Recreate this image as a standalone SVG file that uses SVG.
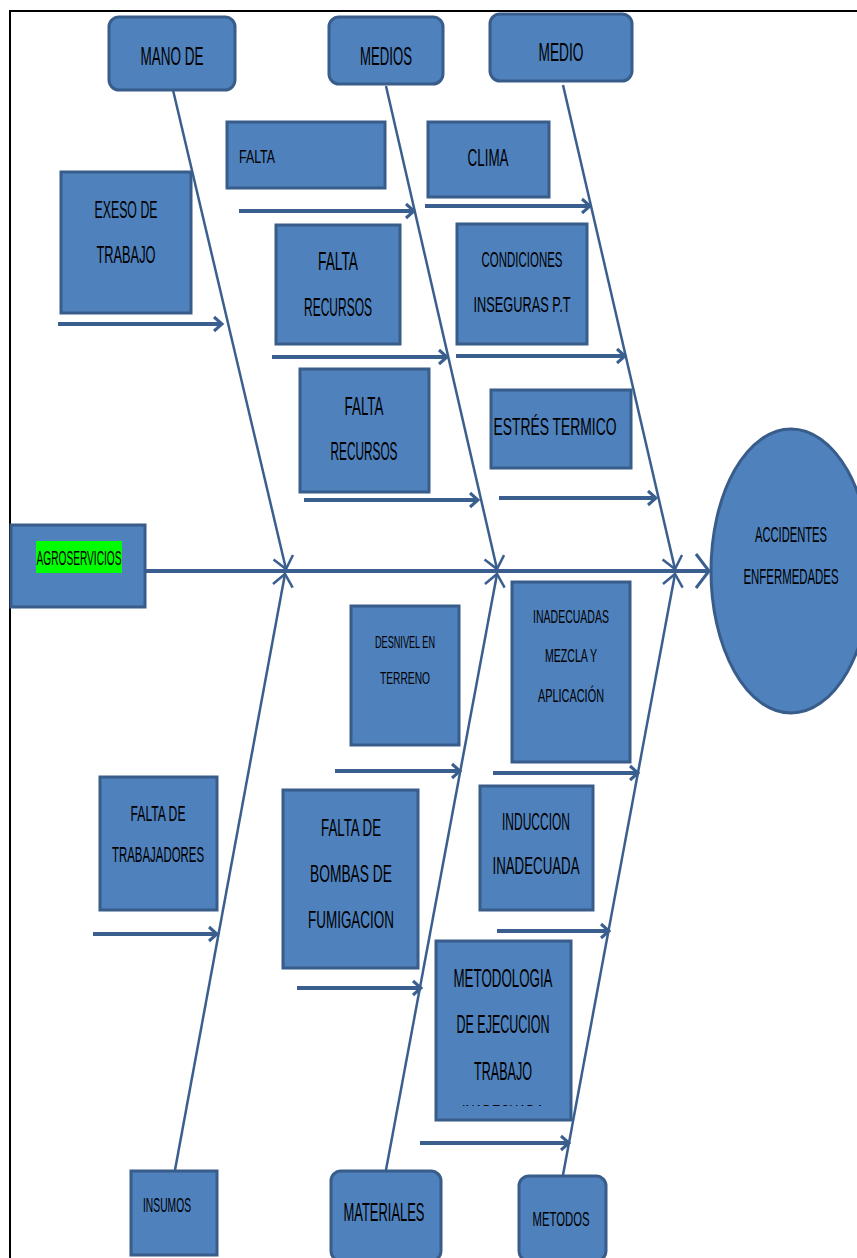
<svg xmlns="http://www.w3.org/2000/svg" width="857" height="1258" viewBox="0 0 857 1258">
<defs>
<style>
.box{fill:#4F81BD;stroke:#385D8A;stroke-width:3}
.t{font-family:"Liberation Sans Narrow","Liberation Sans",Arial,sans-serif;fill:#000;text-anchor:middle}
.bone{stroke:#3A5F8F;stroke-width:2.5;fill:none}
.sa{stroke:#3A5F8F;stroke-width:4;fill:none}
</style>
<marker id="ah" markerUnits="userSpaceOnUse" markerWidth="16" markerHeight="20" refX="12" refY="10" orient="auto">
<path d="M4,3 L12,10 L4,17" fill="none" stroke="#3A5F8F" stroke-width="3"/>
</marker>
<marker id="bh" markerUnits="userSpaceOnUse" markerWidth="24" markerHeight="30" refX="18" refY="15" orient="auto">
<path d="M6,5 L18,15 L6,25" fill="none" stroke="#3A5F8F" stroke-width="2.5"/>
</marker>
<marker id="big" markerUnits="userSpaceOnUse" markerWidth="20" markerHeight="40" refX="15" refY="20" orient="auto">
<path d="M2,3 L15,20 L2,37" fill="none" stroke="#3A5F8F" stroke-width="3"/>
</marker>
<clipPath id="cp"><rect x="436" y="1090" width="135" height="16"/></clipPath>
</defs>
<rect width="857" height="1258" fill="#fff"/>
<path d="M10,1258 L10,11 L857,11" fill="none" stroke="#000" stroke-width="2"/>

<g id="connectors">
<line class="sa" x1="146" y1="571" x2="709" y2="571" marker-end="url(#big)"/>
<line class="bone" x1="173" y1="90" x2="286" y2="569" marker-end="url(#bh)"/>
<line class="bone" x1="175" y1="1170" x2="285" y2="574" marker-end="url(#bh)"/>
<line class="bone" x1="386" y1="86" x2="497" y2="569" marker-end="url(#bh)"/>
<line class="bone" x1="386" y1="1170" x2="497" y2="574" marker-end="url(#bh)"/>
<line class="bone" x1="563" y1="85" x2="675" y2="569" marker-end="url(#bh)"/>
<line class="bone" x1="563" y1="1175" x2="675" y2="574" marker-end="url(#bh)"/>
<line class="sa" x1="58" y1="324" x2="222" y2="324" marker-end="url(#ah)"/>
<line class="sa" x1="239" y1="211" x2="414" y2="211" marker-end="url(#ah)"/>
<line class="sa" x1="425" y1="206" x2="590" y2="206" marker-end="url(#ah)"/>
<line class="sa" x1="272" y1="357" x2="447" y2="357" marker-end="url(#ah)"/>
<line class="sa" x1="456" y1="356" x2="625" y2="356" marker-end="url(#ah)"/>
<line class="sa" x1="304" y1="500" x2="478" y2="500" marker-end="url(#ah)"/>
<line class="sa" x1="499" y1="498" x2="656" y2="498" marker-end="url(#ah)"/>
<line class="sa" x1="335" y1="771" x2="460" y2="771" marker-end="url(#ah)"/>
<line class="sa" x1="493" y1="773" x2="638" y2="773" marker-end="url(#ah)"/>
<line class="sa" x1="93" y1="934" x2="217" y2="934" marker-end="url(#ah)"/>
<line class="sa" x1="297" y1="988" x2="421" y2="988" marker-end="url(#ah)"/>
<line class="sa" x1="497" y1="931" x2="609" y2="931" marker-end="url(#ah)"/>
<line class="sa" x1="420" y1="1143" x2="569" y2="1143" marker-end="url(#ah)"/>
</g>

<g id="mano">
<rect class="box" x="109" y="17" width="126" height="73" rx="10"/>
<text class="t" x="172" y="65" font-size="26" textLength="63" lengthAdjust="spacingAndGlyphs">MANO DE</text>
</g>
<g id="medios">
<rect class="box" x="329" y="17" width="114" height="67" rx="10"/>
<text class="t" x="386" y="65" font-size="26" textLength="52" lengthAdjust="spacingAndGlyphs">MEDIOS</text>
</g>
<g id="medio">
<rect class="box" x="490" y="14" width="142" height="67" rx="10"/>
<text class="t" x="561" y="61" font-size="25" textLength="45" lengthAdjust="spacingAndGlyphs">MEDIO</text>
</g>
<g id="falta1">
<rect class="box" x="227" y="122" width="158" height="66"/>
<text class="t" x="257" y="163" font-size="18" textLength="36" lengthAdjust="spacingAndGlyphs">FALTA</text>
</g>
<g id="clima">
<rect class="box" x="428" y="122" width="121" height="75"/>
<text class="t" x="488" y="166" font-size="23" textLength="41" lengthAdjust="spacingAndGlyphs">CLIMA</text>
</g>
<g id="exeso">
<rect class="box" x="61" y="172" width="130" height="141"/>
<text class="t" x="126" y="218" font-size="24" textLength="63" lengthAdjust="spacingAndGlyphs">EXESO DE</text>
<text class="t" x="126" y="263" font-size="24" textLength="59" lengthAdjust="spacingAndGlyphs">TRABAJO</text>
</g>
<g id="faltarec1">
<rect class="box" x="276" y="225" width="124" height="119"/>
<text class="t" x="338" y="270" font-size="25" textLength="40" lengthAdjust="spacingAndGlyphs">FALTA</text>
<text class="t" x="338" y="316" font-size="25" textLength="68" lengthAdjust="spacingAndGlyphs">RECURSOS</text>
</g>
<g id="condiciones">
<rect class="box" x="457" y="224" width="130" height="120"/>
<text class="t" x="522" y="267" font-size="22" textLength="81" lengthAdjust="spacingAndGlyphs">CONDICIONES</text>
<text class="t" x="522" y="312" font-size="22" textLength="97" lengthAdjust="spacingAndGlyphs">INSEGURAS P.T</text>
</g>
<g id="faltarec2">
<rect class="box" x="300" y="369" width="129" height="123"/>
<text class="t" x="364" y="415" font-size="25" textLength="39" lengthAdjust="spacingAndGlyphs">FALTA</text>
<text class="t" x="364" y="460" font-size="25" textLength="67" lengthAdjust="spacingAndGlyphs">RECURSOS</text>
</g>
<g id="estres">
<rect class="box" x="491" y="390" width="140" height="78"/>
<text class="t" x="555" y="435" font-size="24" textLength="123" lengthAdjust="spacingAndGlyphs">ESTRÉS TERMICO</text>
</g>
<g id="agro">
<rect class="box" x="11" y="525" width="134" height="82"/>
<rect x="36" y="541" width="86" height="32" fill="#00FF00"/>
<text class="t" x="79" y="565" font-size="20" textLength="85" lengthAdjust="spacingAndGlyphs">AGROSERVICIOS</text>
</g>
<g id="accidentes">
<ellipse class="box" cx="791" cy="571" rx="80" ry="142"/>
<text class="t" x="791" y="542" font-size="22" textLength="72" lengthAdjust="spacingAndGlyphs">ACCIDENTES</text>
<text class="t" x="791" y="584" font-size="22" textLength="95" lengthAdjust="spacingAndGlyphs">ENFERMEDADES</text>
</g>
<g id="desnivel">
<rect class="box" x="351" y="606" width="108" height="139"/>
<text class="t" x="405" y="648" font-size="17" textLength="60" lengthAdjust="spacingAndGlyphs">DESNIVEL EN</text>
<text class="t" x="405" y="684" font-size="17" textLength="50" lengthAdjust="spacingAndGlyphs">TERRENO</text>
</g>
<g id="inadecuadas">
<rect class="box" x="512" y="582" width="118" height="180"/>
<text class="t" x="571" y="623" font-size="19" textLength="76" lengthAdjust="spacingAndGlyphs">INADECUADAS</text>
<text class="t" x="571" y="662" font-size="19" textLength="52" lengthAdjust="spacingAndGlyphs">MEZCLA Y</text>
<text class="t" x="571" y="702" font-size="19" textLength="66" lengthAdjust="spacingAndGlyphs">APLICACIÓN</text>
</g>
<g id="faltatrab">
<rect class="box" x="100" y="777" width="117" height="133"/>
<text class="t" x="158" y="821" font-size="22" textLength="55" lengthAdjust="spacingAndGlyphs">FALTA DE</text>
<text class="t" x="158" y="862" font-size="22" textLength="92" lengthAdjust="spacingAndGlyphs">TRABAJADORES</text>
</g>
<g id="bombas">
<rect class="box" x="283" y="790" width="135" height="178"/>
<text class="t" x="351" y="836" font-size="24" textLength="60" lengthAdjust="spacingAndGlyphs">FALTA DE</text>
<text class="t" x="351" y="882" font-size="24" textLength="82" lengthAdjust="spacingAndGlyphs">BOMBAS  DE</text>
<text class="t" x="351" y="928" font-size="24" textLength="86" lengthAdjust="spacingAndGlyphs">FUMIGACION</text>
</g>
<g id="induccion">
<rect class="box" x="480" y="786" width="113" height="124"/>
<text class="t" x="536" y="830" font-size="24" textLength="68" lengthAdjust="spacingAndGlyphs">INDUCCION</text>
<text class="t" x="536" y="874" font-size="24" textLength="87" lengthAdjust="spacingAndGlyphs">INADECUADA</text>
</g>
<g id="metodologia">
<rect class="box" x="436" y="941" width="135" height="179"/>
<text class="t" x="503" y="987" font-size="25" textLength="99" lengthAdjust="spacingAndGlyphs">METODOLOGIA</text>
<text class="t" x="503" y="1033" font-size="25" textLength="93" lengthAdjust="spacingAndGlyphs">DE EJECUCION</text>
<text class="t" x="503" y="1080" font-size="25" textLength="58" lengthAdjust="spacingAndGlyphs">TRABAJO</text>
<text class="t" x="503" y="1119" font-size="20" textLength="82" lengthAdjust="spacingAndGlyphs" clip-path="url(#cp)">INADECUADA</text>
</g>
<g id="insumos">
<rect class="box" x="131" y="1171" width="86" height="84"/>
<text class="t" x="167" y="1212" font-size="20" textLength="48" lengthAdjust="spacingAndGlyphs">INSUMOS</text>
</g>
<g id="materiales">
<rect class="box" x="331" y="1171" width="110" height="90" rx="10"/>
<text class="t" x="384" y="1221" font-size="25" textLength="81" lengthAdjust="spacingAndGlyphs">MATERIALES</text>
</g>
<g id="metodos">
<rect class="box" x="519" y="1176" width="87" height="85" rx="10"/>
<text class="t" x="561" y="1226" font-size="21" textLength="57" lengthAdjust="spacingAndGlyphs">METODOS</text>
</g>
</svg>
